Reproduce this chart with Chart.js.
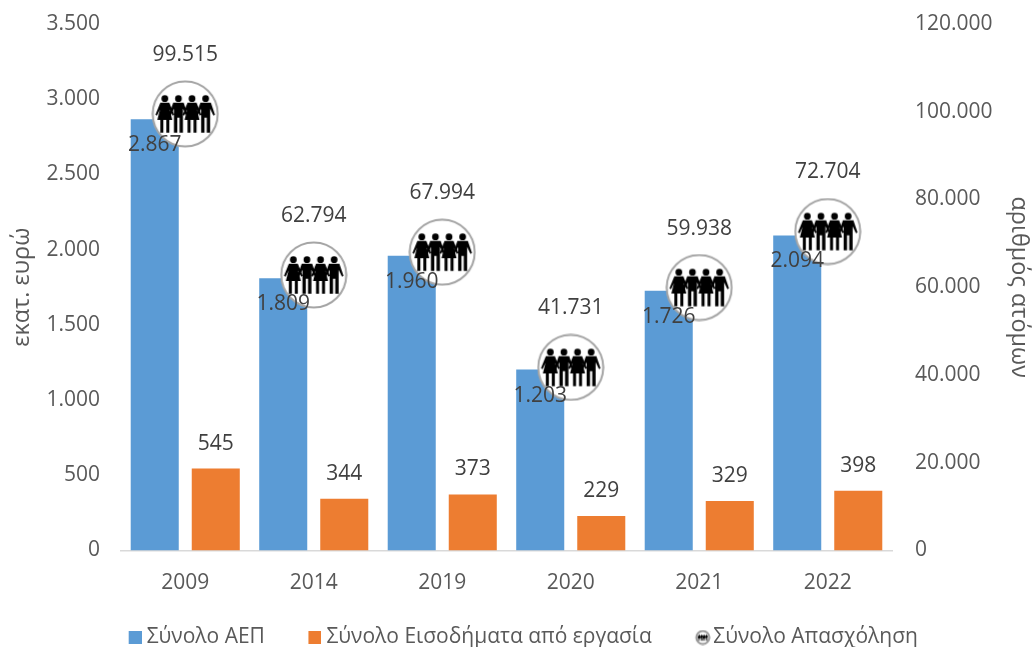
<!DOCTYPE html>
<html><head><meta charset="utf-8">
<style>html,body{margin:0;padding:0;background:#fff}#w{width:1033px;height:647px;position:relative}canvas{display:block}</style>
<script src="https://cdn.jsdelivr.net/npm/chart.js@4"></script>
</head><body><div id="w"><canvas id="c" width="1033" height="647"></canvas></div>
<script>
const categories = ['2009','2014','2019','2020','2021','2022'];
const gdpValues = [2867,1809,1960,1203,1726,2094];
const incomeValues = [545,344,373,229,329,398];
const employmentValues = [99515,62794,67994,41731,59938,72704];
const seriesNames = ['Σύνολο ΑΕΠ','Σύνολο Εισοδήματα από εργασία','Σύνολο Απασχόληση'];
const leftAxisTitle = 'εκατ. ευρώ';
const rightAxisTitle = 'αριθμός ατόμων';
const BLUE='#5B9BD5', ORANGE='#ED7D31', TXT='#595959', LBL='#404040';
const FONT='"Open Sans", sans-serif';
const fmt = v => String(v).replace(/\B(?=(\d{3})+$)/g,'.');

function person(g,x,top,s,female){
  g.beginPath();g.arc(x,top+s*0.09,s*0.09,0,7);g.fill();
  g.beginPath();
  if(female){
    g.moveTo(x-s*0.12,top+s*0.2);g.lineTo(x+s*0.12,top+s*0.2);
    g.lineTo(x+s*0.25,top+s*0.52);g.lineTo(x+s*0.21,top+s*0.55);
    g.lineTo(x+s*0.13,top+s*0.38);g.lineTo(x+s*0.2,top+s*0.66);
    g.lineTo(x+s*0.12,top+s*0.66);g.lineTo(x+s*0.12,top+s);g.lineTo(x+s*0.04,top+s);g.lineTo(x+s*0.04,top+s*0.66);
    g.lineTo(x-s*0.04,top+s*0.66);g.lineTo(x-s*0.04,top+s);g.lineTo(x-s*0.12,top+s);g.lineTo(x-s*0.12,top+s*0.66);
    g.lineTo(x-s*0.2,top+s*0.66);g.lineTo(x-s*0.13,top+s*0.38);g.lineTo(x-s*0.21,top+s*0.55);g.lineTo(x-s*0.25,top+s*0.52);
  } else {
    g.moveTo(x-s*0.14,top+s*0.2);g.lineTo(x+s*0.14,top+s*0.2);
    g.lineTo(x+s*0.25,top+s*0.52);g.lineTo(x+s*0.21,top+s*0.55);
    g.lineTo(x+s*0.12,top+s*0.36);g.lineTo(x+s*0.12,top+s);g.lineTo(x+s*0.03,top+s);g.lineTo(x+s*0.03,top+s*0.6);
    g.lineTo(x-s*0.03,top+s*0.6);g.lineTo(x-s*0.03,top+s);g.lineTo(x-s*0.12,top+s);g.lineTo(x-s*0.12,top+s*0.36);
    g.lineTo(x-s*0.21,top+s*0.55);g.lineTo(x-s*0.25,top+s*0.52);
  }
  g.closePath();g.fill();
}
function icon(size,width){
  const W=width||size, small=size<30;
  const cv=document.createElement('canvas');cv.width=W;cv.height=size;
  const g=cv.getContext('2d'),cx=W-size/2,m=size/2;
  const lw=2;
  g.fillStyle='#fff';g.strokeStyle=small?'#999999':'#A5A5A5';g.lineWidth=lw;
  g.beginPath();g.arc(cx,m,m-lw/2-0.5,0,7);g.fill();g.stroke();
  g.fillStyle='#000';
  const s=size*(small?0.42:0.55),top=m-s*0.5,st=size*(small?0.15:0.2);
  [-1.5,-0.5,0.5,1.5].forEach((k,i)=>person(g,cx+k*st,top,s,i%2===0));
  return cv;
}
// Legend markers: canvases wider than the marker so it sits close to its text.
function sq(color,W){const cv=document.createElement('canvas');cv.width=W;cv.height=13;const g=cv.getContext('2d');g.fillStyle=color;g.fillRect(W-13,0,13,13);return cv;}
const bigIcon=icon(68);
const legendMarkers=[sq(BLUE,32),sq(ORANGE,32),icon(16,37)];

const labelPlugin={id:'valueLabels',afterDatasetsDraw(ch){
  const g=ch.ctx;g.save();g.font='21px '+FONT;g.fillStyle=LBL;g.textAlign='center';g.textBaseline='middle';
  ch.getDatasetMeta(2).data.forEach((p,i)=>g.fillText(fmt(employmentValues[i]),p.x,p.y-59));
  ch.getDatasetMeta(0).data.forEach((p,i)=>g.fillText(fmt(gdpValues[i]),p.x,p.y+26));
  ch.getDatasetMeta(1).data.forEach((p,i)=>g.fillText(fmt(incomeValues[i]),p.x,p.y-25));
  g.restore();
}};

new Chart(document.getElementById('c'),{
  data:{labels:categories,datasets:[
    {type:'bar',label:seriesNames[0],data:gdpValues,backgroundColor:BLUE,yAxisID:'y',order:2,categoryPercentage:0.95,barPercentage:0.787},
    {type:'bar',label:seriesNames[1],data:incomeValues,backgroundColor:ORANGE,yAxisID:'y',order:2,categoryPercentage:0.95,barPercentage:0.787},
    {type:'line',label:seriesNames[2],data:employmentValues,yAxisID:'y2',order:1,showLine:false,clip:false,pointStyle:bigIcon,pointRadius:34,pointHoverRadius:34}
  ]},
  options:{
    responsive:false,animation:false,
    layout:{autoPadding:false,padding:{top:24,left:0,right:0,bottom:0}},
    plugins:{
      tooltip:{enabled:false},
      legend:{position:'bottom',align:'center',maxHeight:50,labels:{
        usePointStyle:true,pointStyleWidth:21,padding:30,color:TXT,font:{family:FONT,size:21},
        generateLabels(){return legendMarkers.map((im,i)=>({text:seriesNames[i],pointStyle:im,fontColor:TXT,datasetIndex:i,lineWidth:0,strokeStyle:'transparent',fillStyle:'transparent'}));}
      }}
    },
    scales:{
      x:{grid:{display:false,drawTicks:false},border:{display:true,color:'#D9D9D9',width:1.5},
         ticks:{color:TXT,font:{family:FONT,size:21},padding:20,maxRotation:0},
         afterFit(s){s.height=46.5;}},
      y:{position:'left',min:0,max:3500,grid:{display:false},border:{display:false},
         ticks:{stepSize:500,color:TXT,font:{family:FONT,size:21},padding:13,callback:v=>fmt(v)},
         title:{display:true,text:leftAxisTitle,color:TXT,font:{family:FONT,size:23.5},padding:{top:8,bottom:0}},
         afterFit(s){s.width=121;s.paddingTop=0;s.paddingBottom=0;}},
      y2:{position:'right',min:0,max:120000,grid:{display:false},border:{display:false},
         ticks:{stepSize:20000,color:TXT,font:{family:FONT,size:21},padding:15,callback:v=>fmt(v)},
         title:{display:true,text:rightAxisTitle,color:TXT,font:{family:FONT,size:23.5},padding:{top:0,bottom:0}},
         afterFit(s){s.width=141;s.paddingTop=0;s.paddingBottom=0;}}
    }
  },
  plugins:[labelPlugin]
});
</script></body></html>
